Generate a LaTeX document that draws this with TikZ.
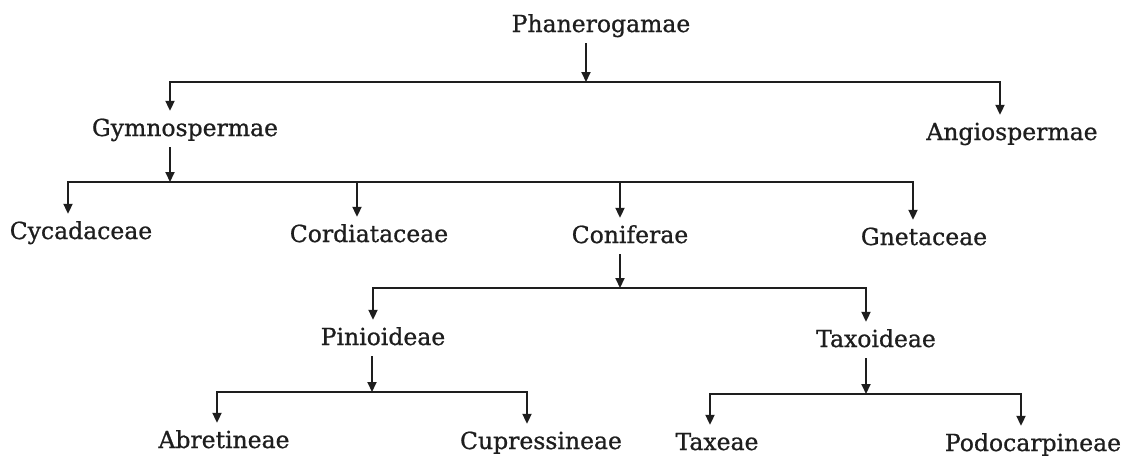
\documentclass[tikz,border=0pt]{standalone}
\usepackage{fontspec}
\setmainfont{DejaVu Serif}
\newfontfamily\lblfont{DejaVu Serif}[FakeBold=0.8]
\usetikzlibrary{arrows.meta}
\definecolor{ink}{HTML}{1E1E1E}
\begin{document}
\begin{tikzpicture}[x=1pt,y=-1pt,
  lbl/.style={anchor=base,inner xsep=0pt,inner ysep=7pt,text height=18pt,text depth=4pt,
              font=\lblfont\fontsize{23.5}{28}\selectfont,text=ink},
  link/.style={line width=2pt,draw=ink},
  arr/.style={link,-{Triangle[length=10pt,width=9pt]}}]
\fill[white] (0,0) rectangle (1128,459);
\useasboundingbox (0,0) rectangle (1128,459);

% nodes
\node[lbl] (P)  at (601,32)  {Phanerogamae};
\node[lbl] (G)  at (185,136) {Gymnospermae};
\node[lbl] (A)  at (1012,140) {Angiospermae};
\node[lbl] (Cy) at (81,239)  {Cycadaceae};
\node[lbl] (Co) at (369,242) {Cordiataceae};
\node[lbl] (Cn) at (630,243) {Coniferae};
\node[lbl] (Gn) at (924,245) {Gnetaceae};
\node[lbl] (Pi) at (383,345) {Pinioideae};
\node[lbl] (Tx) at (876,347) {Taxoideae};
\node[lbl] (Ab) at (224,448) {Abretineae};
\node[lbl] (Cu) at (541,449) {Cupressineae};
\node[lbl] (Te) at (717,450) {Taxeae};
\node[lbl] (Po) at (1033,451) {Podocarpineae};

% bar junctions
\coordinate (b1) at (586,82);
\coordinate (b2) at (170,182);
\coordinate (b3) at (620,288);
\coordinate (b4) at (372,392);
\coordinate (b5) at (866,394);

% level 1
\draw[arr] ([xshift=-15pt]P.south) -- (b1);
\draw[arr] (b1) -| ([xshift=-15pt]G.north);
\draw[arr] (b1) -| ([xshift=-12pt]A.north);
% level 2
\draw[arr] ([xshift=-15pt]G.south) -- (b2);
\draw[arr] (b2) -| ([xshift=-13pt]Cy.north);
\draw[arr] (b2) -| ([xshift=-12pt]Co.north);
\draw[arr] (b2) -| ([xshift=-10pt]Cn.north);
\draw[arr] (b2) -| ([xshift=-11pt]Gn.north);
% level 3
\draw[arr] ([xshift=-10pt]Cn.south) -- (b3);
\draw[arr] (b3) -| ([xshift=-10pt]Pi.north);
\draw[arr] (b3) -| ([xshift=-10pt]Tx.north);
% level 4
\draw[arr] ([xshift=-11pt]Pi.south) -- (b4);
\draw[arr] (b4) -| ([xshift=-7pt]Ab.north);
\draw[arr] (b4) -| ([xshift=-14pt]Cu.north);
\draw[arr] ([xshift=-10pt]Tx.south) -- (b5);
\draw[arr] (b5) -| ([xshift=-7pt]Te.north);
\draw[arr] (b5) -| ([xshift=-12pt]Po.north);
\end{tikzpicture}
\end{document}
